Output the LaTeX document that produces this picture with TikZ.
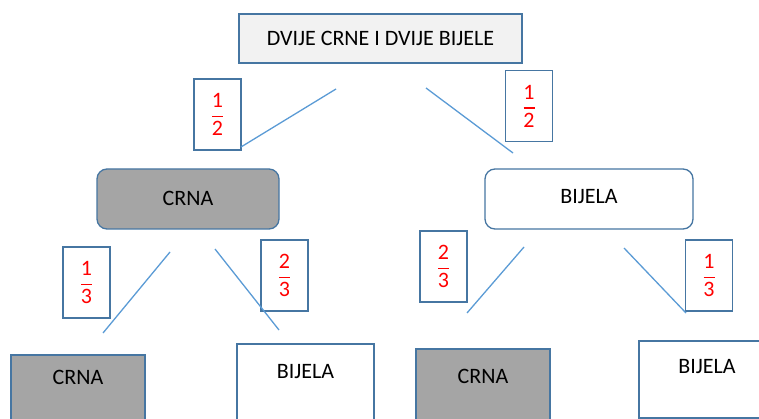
\documentclass[tikz,border=0pt]{standalone}
\usepackage{fontspec}
\setmainfont{Carlito}
\definecolor{bord}{RGB}{70,118,162}
\definecolor{conn}{RGB}{91,155,213}
\definecolor{darkf}{RGB}{165,165,165}
\definecolor{lightf}{RGB}{242,242,242}
\definecolor{fracred}{RGB}{255,0,0}
\newcommand{\myfrac}[2]{\raisebox{-2pt}{\vbox{\offinterlineskip\halign{\hfil##\hfil\cr #1\cr\noalign{\kern8pt}\rule{11pt}{1.6pt}\cr\noalign{\kern4pt}#2\cr}}}}
\begin{document}
\begin{tikzpicture}[x=1pt,y=-1pt,
  every node/.style={font=\fontsize{22}{26}\selectfont},
  box/.style={draw=bord, line width=1.3pt, inner sep=0pt, text=black},
  rbox/.style={box, rounded corners=10pt},
  probbox/.style={draw=bord, line width=1.3pt, fill=white, minimum width=47pt, minimum height=71pt, inner sep=0pt, text=fracred},
  conline/.style={draw=conn, line width=1.3pt}]
\useasboundingbox (0,0) rectangle (759,419);
\clip (0,0) rectangle (759,419);
% top
\node[box, fill=lightf, minimum width=283pt, minimum height=49pt] (top) at (380.5,38.5) {DVIJE CRNE I DVIJE BIJELE};
% middle
\node[rbox, fill=darkf, minimum width=182pt, minimum height=60pt] (mc) at (188,199) {\raisebox{2pt}{CRNA}};
\node[rbox, fill=white, minimum width=208pt, minimum height=60pt] (mb) at (589,199) {\raisebox{5pt}{BIJELA}};
% bottom
\node[box, fill=darkf, minimum width=134pt, minimum height=85pt, label={[anchor=center, yshift=-23pt, text=black]north:CRNA}] (bcc) at (78,397.5) {};
\node[box, fill=white, minimum width=137pt, minimum height=96pt, label={[anchor=center, yshift=-28pt, text=black]north:BIJELA}] (bcb) at (305.5,392) {};
\node[box, fill=darkf, minimum width=134pt, minimum height=91pt, label={[anchor=center, yshift=-28pt, text=black]north:CRNA}] (bbc) at (483,394.5) {};
\node[box, fill=white, minimum width=136pt, minimum height=77pt, label={[anchor=center, yshift=-26pt, text=black]north:BIJELA}] (bbb) at (707,379.5) {};
% probability labels
\node[probbox] (p1) at (217.5,114.5) {\myfrac{1}{2}};
\node[probbox] (p2) at (529,106) {\myfrac{1}{2}};
\node[probbox] (p3) at (86.5,282.5) {\myfrac{1}{3}};
\node[probbox] (p4) at (284.5,275.5) {\myfrac{2}{3}};
\node[probbox] (p5) at (443.5,266.5) {\myfrac{2}{3}};
\node[probbox] (p6) at (709,275.5) {\myfrac{1}{3}};
% connector ends
\coordinate (a1) at (336,89);  \coordinate (a2) at (241,147);
\coordinate (b1) at (426,88);  \coordinate (b2) at (513,153);
\coordinate (c1) at (170,252); \coordinate (c2) at (103,333);
\coordinate (d1) at (215,249); \coordinate (d2) at (279,330);
\coordinate (e1) at (524,247); \coordinate (e2) at (467,313);
\coordinate (f1) at (624,248); \coordinate (f2) at (686,313);
\draw[conline] (a1) -- (a2);
\draw[conline] (b1) -- (b2);
\draw[conline] (c1) -- (c2);
\draw[conline] (d1) -- (d2);
\draw[conline] (e1) -- (e2);
\draw[conline] (f1) -- (f2);
\end{tikzpicture}
\end{document}
